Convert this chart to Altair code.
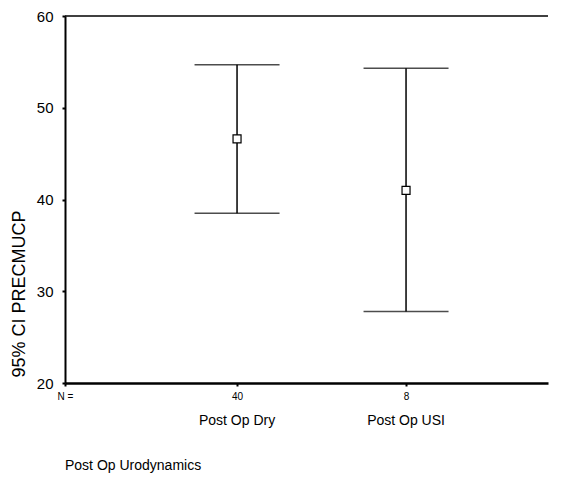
import altair as alt
import pandas as pd

groups = ["Post Op Dry", "Post Op USI"]
positions = [1, 2]
n_counts = [40, 8]
ci_lower = [38.5, 27.8]
means = [46.6, 41.0]
ci_upper = [54.7, 54.3]
y_ticks = [20, 30, 40, 50, 60]
y_title = "95% CI PRECMUCP"
x_title = "Post Op Urodynamics"
n_label = "N ="

W, H = 483, 367
x_min, x_max = -0.018, 2.84
FONT = "Liberation Sans"

df = pd.DataFrame(dict(group=groups, pos=positions, n=n_counts,
                       lower=ci_lower, mean=means, upper=ci_upper))

xs = alt.Scale(domain=[x_min, x_max], nice=False, zero=False)
ys = alt.Scale(domain=[y_ticks[0], y_ticks[-1]], nice=False, zero=False)

expr = f"'{n_label}'"
for p, n in reversed(list(zip(positions, n_counts))):
    expr = f"abs(datum.value - {p}) < 0.01 ? '{n}' : " + expr

x_axis = alt.Axis(values=[x_min] + positions, labelExpr=expr, title=None, grid=False,
                  tickSize=3, tickWidth=2, tickColor="black", domainWidth=2.5,
                  domainColor="black", labelFontSize=10, labelPadding=5,
                  labelFont=FONT, labelColor="black", labelFlush=False)
y_axis = alt.Axis(values=y_ticks, title=y_title, titleFontSize=18, titleFontWeight="normal",
                  titleFont=FONT, titleColor="black", titlePadding=8, titleAnchor="start",
                  titleY=H - 6,
                  labelFontSize=15, labelFont=FONT, labelColor="black", labelPadding=9,
                  tickSize=3, tickWidth=2, tickColor="black", domainWidth=2,
                  domainColor="black", grid=False)

base = alt.Chart(df)

rule = base.mark_rule(color="black", strokeWidth=1.5).encode(
    x=alt.X("pos:Q", scale=xs, axis=x_axis),
    y=alt.Y("lower:Q", scale=ys, axis=y_axis),
    y2="upper:Q",
)
cap_lo = base.mark_tick(orient="horizontal", size=85, thickness=1.5, color="black").encode(
    x=alt.X("pos:Q", scale=xs), y=alt.Y("lower:Q", scale=ys))
cap_hi = base.mark_tick(orient="horizontal", size=85, thickness=1.5, color="black").encode(
    x=alt.X("pos:Q", scale=xs), y=alt.Y("upper:Q", scale=ys))
pts = base.mark_point(shape="square", size=64, filled=True, fill="white", stroke="black",
                      strokeWidth=1.2, opacity=1).encode(
    x=alt.X("pos:Q", scale=xs), y=alt.Y("mean:Q", scale=ys))

top = alt.Chart(pd.DataFrame({"v": [y_ticks[-1]]})).mark_rule(color="black", strokeWidth=1.5).encode(
    y=alt.Y("v:Q", scale=ys), x=alt.value(0), x2=alt.value(W))

cat_labels = base.mark_text(fontSize=14, font=FONT, color="black", baseline="middle").encode(
    x=alt.X("pos:Q", scale=xs), y=alt.value(H + 38), text="group:N")

xt = alt.Chart(pd.DataFrame({"t": [x_title]})).mark_text(
    align="left", baseline="middle", fontSize=14, font=FONT, color="black").encode(
    x=alt.value(0), y=alt.value(H + 83), text="t:N")

chart = alt.layer(top, rule, cap_lo, cap_hi, pts, cat_labels, xt).properties(
    width=W, height=H,
    padding={"left": 57, "top": 8, "right": 12, "bottom": 92},
    autosize=alt.AutoSizeParams(type="none"),
).configure_view(stroke=None)

chart.save("out.html", embed_options={"renderer": "svg", "actions": False})
